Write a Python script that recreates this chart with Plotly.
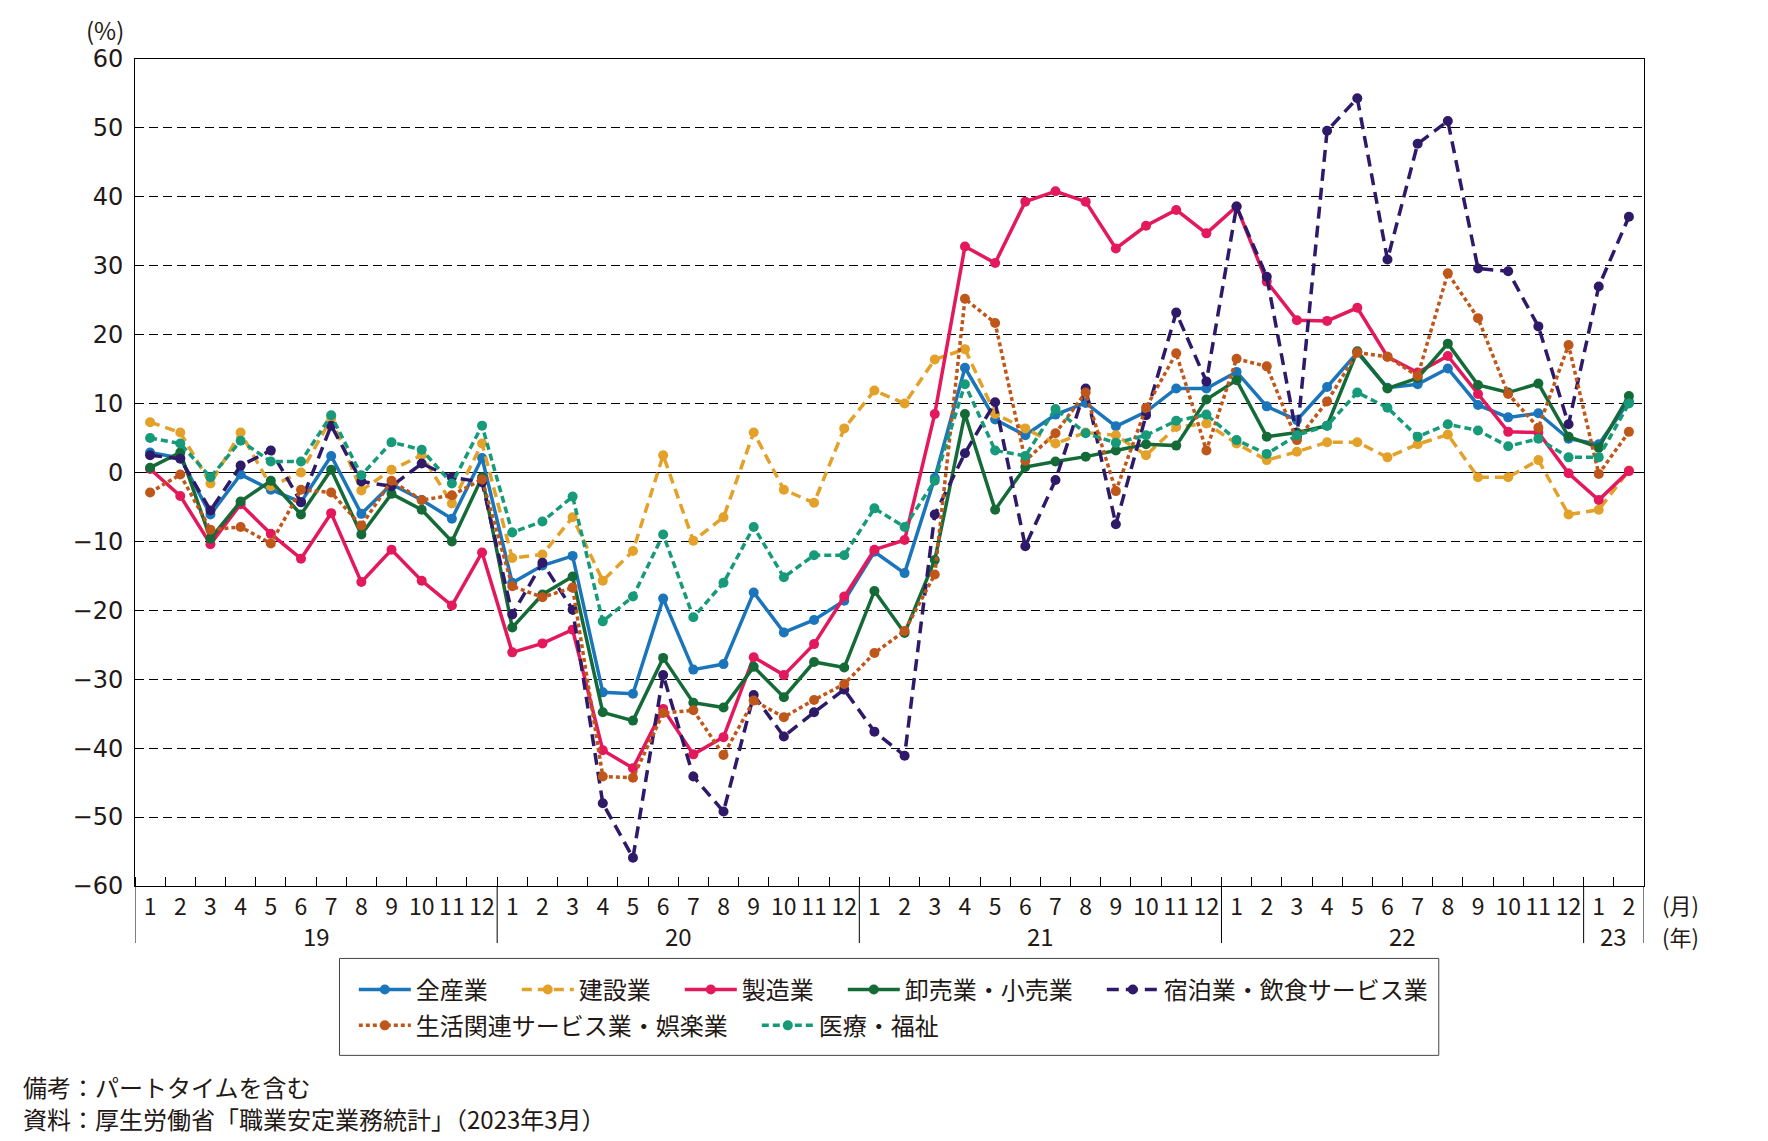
import plotly.graph_objects as go

# 月ラベル・年ラベル
months = [1, 2, 3, 4, 5, 6, 7, 8, 9, 10, 11, 12] * 4 + [1, 2]
years = ["19", "20", "21", "22", "23"]
months_per_year = [12, 12, 12, 12, 2]
y_ticks = list(range(-60, 61, 10))

# 新規求人数の前年同月比（%）
all_industries = [
    2.9, 2.1, -6.1, -0.3, -2.5, -4.3, 2.4, -6.0, -1.7, -4.0, -6.7, 2.1,
    -16.0, -13.5, -12.1, -31.9, -32.1, -18.3, -28.6, -27.8, -17.4, -23.2, -21.4, -18.6,
    -11.5, -14.6, -0.8, 15.2, 7.7, 5.4, 8.4, 10.1, 6.7, 8.8, 12.2, 12.2,
    14.6, 9.6, 7.6, 12.4, 17.4, 12.3, 12.8, 15.1, 9.8, 8.0, 8.6, 4.9,
    4.1, 10.3,
]
construction = [
    7.3, 5.8, -1.6, 5.8, -2.0, 0.0, 7.8, -2.6, 0.4, 2.5, -4.5, 4.2,
    -12.4, -11.9, -6.5, -15.7, -11.4, 2.5, -9.9, -6.5, 5.8, -2.5, -4.4, 6.4,
    11.9, 10.0, 16.4, 17.9, 8.5, 6.4, 4.2, 5.8, 5.4, 2.5, 6.6, 7.1,
    4.2, 1.8, 3.0, 4.4, 4.4, 2.2, 4.1, 5.5, -0.7, -0.7, 1.8, -6.1,
    -5.4, 0.3,
]
manufacturing = [
    0.5, -3.4, -10.4, -4.6, -8.9, -12.5, -5.9, -15.9, -11.2, -15.7, -19.3, -11.6,
    -26.1, -24.8, -22.8, -40.3, -42.9, -34.3, -40.9, -38.4, -26.8, -29.4, -24.9, -18.0,
    -11.2, -9.8, 8.5, 32.8, 30.4, 39.3, 40.8, 39.3, 32.5, 35.8, 38.1, 34.7,
    38.6, 27.7, 22.1, 22.0, 23.9, 16.8, 14.5, 16.9, 11.4, 5.9, 5.8, -0.1,
    -4.0, 0.2,
]
wholesale_retail = [
    0.7, 2.9, -9.6, -4.2, -1.2, -6.1, 0.4, -9.0, -3.1, -5.4, -10.0, -0.7,
    -22.5, -17.7, -15.1, -34.8, -36.0, -26.9, -33.4, -34.1, -28.2, -32.6, -27.5, -28.3,
    -17.2, -23.3, -12.7, 8.5, -5.4, 0.8, 1.6, 2.3, 3.2, 4.1, 3.9, 10.6,
    13.4, 5.2, 5.8, 6.8, 17.6, 12.2, 13.7, 18.7, 12.7, 11.6, 12.9, 5.2,
    3.6, 11.1,
]
accommodation_food = [
    2.5, 2.0, -5.5, 1.0, 3.2, -4.3, 6.8, -1.3, -2.0, 1.3, -0.7, -1.4,
    -20.6, -13.1, -19.9, -48.0, -55.9, -29.4, -44.1, -49.2, -32.3, -38.3, -34.8, -31.5,
    -37.6, -41.1, -6.1, 2.8, 10.2, -10.7, -1.1, 12.2, -7.5, 8.3, 23.2, 13.2,
    38.6, 28.4, 5.2, 49.6, 54.3, 30.9, 47.7, 51.0, 29.6, 29.2, 21.2, 7.0,
    27.0, 37.1,
]
living_leisure = [
    -2.9, -0.3, -8.3, -7.9, -10.3, -2.5, -2.9, -7.7, -1.2, -4.0, -3.3, -1.0,
    -16.5, -18.1, -16.7, -44.1, -44.3, -34.9, -34.5, -41.0, -33.1, -35.5, -33.0, -30.7,
    -26.2, -23.0, -14.8, 25.2, 21.7, 1.7, 5.7, 11.6, -2.7, 9.4, 17.3, 3.2,
    16.5, 15.4, 4.7, 10.3, 17.4, 16.8, 14.0, 28.9, 22.4, 11.4, 6.5, 18.5,
    -0.2, 5.9,
]
medical_welfare = [
    5.0, 4.2, -0.7, 4.6, 1.6, 1.6, 8.3, -0.4, 4.4, 3.3, -1.6, 6.8,
    -8.7, -7.1, -3.5, -21.6, -18.0, -9.0, -21.0, -16.0, -7.9, -15.2, -12.0, -12.0,
    -5.2, -7.9, -1.2, 12.8, 3.2, 2.4, 9.2, 5.7, 4.3, 5.4, 7.5, 8.4,
    4.7, 2.7, 5.4, 6.8, 11.6, 9.4, 5.2, 7.0, 6.1, 3.8, 4.9, 2.2,
    2.2, 10.0,
]

FONT = "Noto Sans CJK JP, Noto Sans, sans-serif"
NUM_FONT = "DejaVu Sans, Noto Sans, sans-serif"
TEXT = "#231815"
PAD = "\u2002\u2002"  # 凡例項目の間隔調整

series = [
    ("全産業", all_industries, "#1b75bb", "solid", "legend"),
    ("建設業", construction, "#e3a12a", "10px,6px", "legend"),
    ("製造業", manufacturing, "#e3195c", "solid", "legend"),
    ("卸売業・小売業", wholesale_retail, "#156b37", "solid", "legend"),
    ("宿泊業・飲食サービス業", accommodation_food, "#2e1a68", "12px,7px", "legend"),
    ("生活関連サービス業・娯楽業", living_leisure, "#c0571a", "4px,3px", "legend2"),
    ("医療・福祉", medical_welfare, "#179a7a", "7px,4px", "legend2"),
]

x = list(range(len(months)))

fig = go.Figure()
for name, vals, color, dash, leg in series:
    fig.add_trace(go.Scatter(
        x=x, y=vals, name=name + PAD, mode="lines+markers", legend=leg,
        line=dict(color=color, width=3.5, dash=dash),
        marker=dict(color=color, size=10),
    ))

# 年の区切り
bounds = [-0.5]
for n in months_per_year:
    bounds.append(bounds[-1] + n)
for b in bounds:
    fig.add_shape(type="line", xref="x", yref="paper", x0=b, x1=b, y0=0, y1=-0.069,
                  line=dict(color="black", width=1))
for i, yr in enumerate(years):
    fig.add_annotation(x=(bounds[i] + bounds[i + 1]) / 2, y=-0.0604, xref="x", yref="paper",
                       text=yr, showarrow=False, font=dict(size=24, color=TEXT, family=FONT),
                       xanchor="center", yanchor="middle")

unit_font = dict(size=22, color=TEXT, family=FONT)
fig.add_annotation(x=1.0245, y=-0.0218, xref="paper", yref="paper", text="(月)", showarrow=False,
                   font=unit_font, xanchor="center", yanchor="middle", borderpad=0)
fig.add_annotation(x=1.0245, y=-0.0604, xref="paper", yref="paper", text="(年)", showarrow=False,
                   font=unit_font, xanchor="center", yanchor="middle", borderpad=0)
fig.add_annotation(x=-0.0199, y=1.0356, xref="paper", yref="paper", text="(%)", showarrow=False,
                   font=dict(size=24, color=TEXT, family=FONT), xanchor="center", yanchor="middle")

# 凡例の枠
fig.add_shape(type="rect", xref="paper", yref="paper", x0=0.1355, x1=0.864, y0=-0.2048, y1=-0.0876,
              line=dict(color="#444", width=1))

fig.add_annotation(x=-0.0755, y=-0.243, xref="paper", yref="paper", text="備考：パートタイムを含む",
                   showarrow=False, xanchor="left", yanchor="middle",
                   font=dict(size=24, color=TEXT, family=FONT))
fig.add_annotation(x=-0.0755, y=-0.2814, xref="paper", yref="paper",
                   text="資料：厚生労働省「職業安定業務統計」（2023年3月）",
                   showarrow=False, xanchor="left", yanchor="middle",
                   font=dict(size=24, color=TEXT, family=FONT))

legend_style = dict(orientation="h", xanchor="left", yanchor="middle",
                    font=dict(size=24, color=TEXT, family=FONT),
                    bgcolor="rgba(0,0,0,0)", itemwidth=52, tracegroupgap=0)

# ページ本体の余白 8px を差し引いた余白
fig.update_layout(
    width=1768, height=1141,
    margin=dict(l=127, r=132, t=50.5, b=263),
    paper_bgcolor="white", plot_bgcolor="white",
    font=dict(family=FONT, color=TEXT, size=24),
    showlegend=True,
    legend=dict(x=0.145, y=-0.1257, **legend_style),
    legend2=dict(x=0.145, y=-0.169, **legend_style),
    xaxis=dict(
        range=[-0.5, len(months) - 0.5],
        tickmode="array", tickvals=x, ticktext=[str(m) for m in months],
        ticks="", showgrid=False, zeroline=False,
        showline=True, linecolor="black", linewidth=1, mirror=True,
        tickfont=dict(size=23, color=TEXT, family=FONT),
        minor=dict(tickmode="array", tickvals=[i - 0.5 for i in range(len(months) + 1)],
                   ticks="inside", ticklen=9, tickcolor="black", tickwidth=1, showgrid=False),
    ),
    yaxis=dict(
        range=[-60, 60], tickmode="array", tickvals=y_ticks,
        ticktext=[str(v).replace("-", "\u2212") for v in y_ticks],
        showgrid=True, gridcolor="black", gridwidth=1, griddash="9px,5px",
        zeroline=True, zerolinecolor="black", zerolinewidth=1,
        showline=True, linecolor="black", linewidth=1, mirror=True,
        ticks="", ticklabelstandoff=6,
        tickfont=dict(size=24, color=TEXT, family=NUM_FONT),
    ),
)

fig.write_html("out.html")
